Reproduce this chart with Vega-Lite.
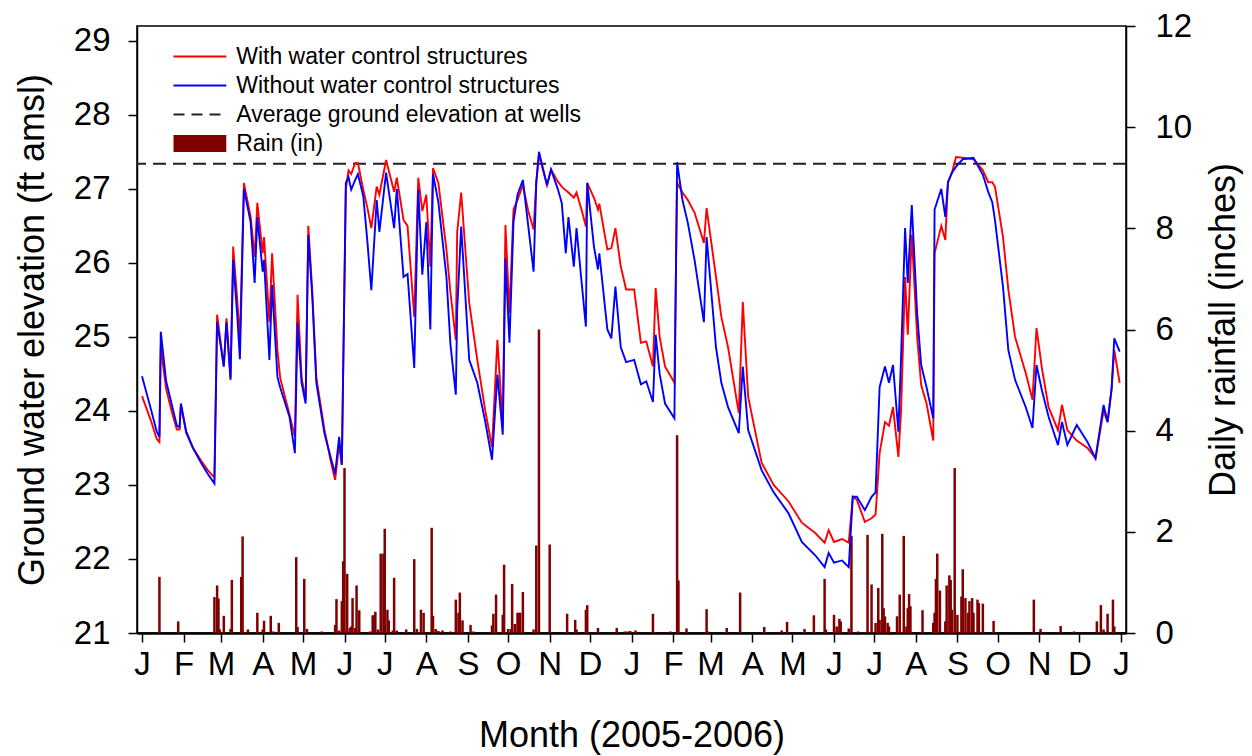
{
  "$schema": "https://vega.github.io/schema/vega-lite/v6.json",
  "width": 989,
  "height": 607,
  "autosize": "none",
  "padding": {"left": 137, "top": 26, "right": 126, "bottom": 123},
  "config": {
    "font": "Liberation Sans",
    "view": {"stroke": "black", "strokeWidth": 1.5},
    "axis": {
      "grid": false, "domainColor": "black", "tickColor": "black", "labelColor": "black", "titleColor": "black",
      "labelFontSize": 33, "titleFontSize": 36, "titleFontWeight": "normal", "tickSize": 9, "tickWidth": 1.5,
      "domainWidth": 1.5, "labelFont": "Liberation Sans", "titleFont": "Liberation Sans"
    },
    "legend": {
      "orient": "none", "legendX": 36, "legendY": 19, "padding": 0,
      "symbolType": "M-3.3,0H3.3", "symbolSize": 256, "symbolOffset": 15.4, "labelOffset": 24.8,
      "labelFontSize": 23, "labelColor": "black", "labelFont": "Liberation Sans", "labelLimit": 0,
      "rowPadding": 5, "title": null
    }
  },
  "datasets": {
    "levels": [
      {"date": "2005-01-01", "with": 24.2, "without": 24.47},
      {"date": "2005-01-05", "with": 24.0, "without": 24.2},
      {"date": "2005-01-08", "with": 23.85, "without": 24.0},
      {"date": "2005-01-12", "with": 23.62, "without": 23.72},
      {"date": "2005-01-14", "with": 23.58, "without": 23.65},
      {"date": "2005-01-15", "with": 24.86, "without": 25.07},
      {"date": "2005-01-19", "with": 24.3, "without": 24.4},
      {"date": "2005-01-23", "with": 24.0, "without": 24.1},
      {"date": "2005-01-27", "with": 23.75, "without": 23.8},
      {"date": "2005-01-29", "with": 23.75, "without": 23.78},
      {"date": "2005-01-30", "with": 24.08, "without": 24.1},
      {"date": "2005-02-03", "with": 23.7, "without": 23.72},
      {"date": "2005-02-08", "with": 23.5, "without": 23.5},
      {"date": "2005-02-14", "with": 23.33, "without": 23.3},
      {"date": "2005-02-19", "with": 23.2, "without": 23.15},
      {"date": "2005-02-24", "with": 23.1, "without": 23.02},
      {"date": "2005-02-26", "with": 25.3, "without": 25.2},
      {"date": "2005-03-03", "with": 24.6, "without": 24.6},
      {"date": "2005-03-05", "with": 25.25, "without": 25.2},
      {"date": "2005-03-08", "with": 24.45, "without": 24.42},
      {"date": "2005-03-10", "with": 26.22, "without": 26.04},
      {"date": "2005-03-13", "with": 25.5, "without": 25.3},
      {"date": "2005-03-15", "with": 24.95, "without": 24.7},
      {"date": "2005-03-18", "with": 27.08, "without": 27.0},
      {"date": "2005-03-23", "with": 26.62, "without": 26.55},
      {"date": "2005-03-26", "with": 26.08, "without": 25.73},
      {"date": "2005-03-28", "with": 26.81, "without": 26.62},
      {"date": "2005-04-01", "with": 26.13, "without": 25.88},
      {"date": "2005-04-02", "with": 26.35, "without": 26.04},
      {"date": "2005-04-06", "with": 25.2, "without": 24.69},
      {"date": "2005-04-08", "with": 26.13, "without": 25.7},
      {"date": "2005-04-12", "with": 24.82, "without": 24.46},
      {"date": "2005-04-14", "with": 24.45, "without": 24.32},
      {"date": "2005-04-21", "with": 23.95, "without": 23.92},
      {"date": "2005-04-25", "with": 23.65, "without": 23.43},
      {"date": "2005-04-27", "with": 25.57, "without": 25.19},
      {"date": "2005-04-30", "with": 24.45, "without": 24.38},
      {"date": "2005-05-03", "with": 24.15, "without": 24.1},
      {"date": "2005-05-05", "with": 26.5, "without": 26.38},
      {"date": "2005-05-08", "with": 25.6, "without": 25.54},
      {"date": "2005-05-11", "with": 24.45, "without": 24.38},
      {"date": "2005-05-17", "with": 23.75, "without": 23.7},
      {"date": "2005-05-22", "with": 23.3, "without": 23.35},
      {"date": "2005-05-25", "with": 23.07, "without": 23.15},
      {"date": "2005-05-28", "with": 23.55, "without": 23.65},
      {"date": "2005-05-30", "with": 23.27, "without": 23.27},
      {"date": "2005-06-02", "with": 27.0, "without": 27.08},
      {"date": "2005-06-04", "with": 27.25, "without": 27.16},
      {"date": "2005-06-06", "with": 27.2, "without": 26.99},
      {"date": "2005-06-09", "with": 27.35, "without": 27.12},
      {"date": "2005-06-11", "with": 27.35, "without": 27.2},
      {"date": "2005-06-15", "with": 26.99, "without": 26.9},
      {"date": "2005-06-18", "with": 26.75, "without": 26.3},
      {"date": "2005-06-21", "with": 26.47, "without": 25.63},
      {"date": "2005-06-25", "with": 27.03, "without": 26.85},
      {"date": "2005-06-27", "with": 26.92, "without": 26.42},
      {"date": "2005-07-02", "with": 27.39, "without": 27.22},
      {"date": "2005-07-08", "with": 26.96, "without": 26.47},
      {"date": "2005-07-10", "with": 27.15, "without": 27.0},
      {"date": "2005-07-15", "with": 26.58, "without": 25.81},
      {"date": "2005-07-18", "with": 26.5, "without": 25.85},
      {"date": "2005-07-23", "with": 25.27, "without": 24.58},
      {"date": "2005-07-26", "with": 27.15, "without": 26.99},
      {"date": "2005-07-29", "with": 26.7, "without": 25.84},
      {"date": "2005-08-01", "with": 26.92, "without": 26.55},
      {"date": "2005-08-04", "with": 25.95, "without": 25.1},
      {"date": "2005-08-06", "with": 27.28, "without": 27.2},
      {"date": "2005-08-10", "with": 27.08, "without": 26.82},
      {"date": "2005-08-16", "with": 26.18, "without": 25.81},
      {"date": "2005-08-19", "with": 25.6, "without": 24.9},
      {"date": "2005-08-23", "with": 24.96, "without": 24.22},
      {"date": "2005-08-24", "with": 26.41, "without": 25.36},
      {"date": "2005-08-27", "with": 26.95, "without": 26.49},
      {"date": "2005-09-02", "with": 25.46, "without": 24.69},
      {"date": "2005-09-08", "with": 24.69, "without": 24.38},
      {"date": "2005-09-14", "with": 24.0, "without": 23.85},
      {"date": "2005-09-19", "with": 23.51, "without": 23.34},
      {"date": "2005-09-23", "with": 24.96, "without": 24.49},
      {"date": "2005-09-27", "with": 23.8, "without": 23.68},
      {"date": "2005-09-29", "with": 26.51, "without": 26.06},
      {"date": "2005-10-02", "with": 25.32, "without": 24.92},
      {"date": "2005-10-05", "with": 26.72, "without": 26.55},
      {"date": "2005-10-08", "with": 26.85, "without": 26.92},
      {"date": "2005-10-12", "with": 27.05, "without": 27.12},
      {"date": "2005-10-16", "with": 26.7, "without": 26.5},
      {"date": "2005-10-20", "with": 26.45, "without": 25.88},
      {"date": "2005-10-22", "with": 27.1, "without": 27.08},
      {"date": "2005-10-24", "with": 27.46, "without": 27.5},
      {"date": "2005-10-30", "with": 27.05, "without": 27.05},
      {"date": "2005-11-02", "with": 27.26, "without": 27.26},
      {"date": "2005-11-07", "with": 27.1, "without": 27.0},
      {"date": "2005-11-10", "with": 27.03, "without": 26.81},
      {"date": "2005-11-13", "with": 26.98, "without": 26.13},
      {"date": "2005-11-15", "with": 26.95, "without": 26.62},
      {"date": "2005-11-19", "with": 26.88, "without": 25.95},
      {"date": "2005-11-21", "with": 26.95, "without": 26.47},
      {"date": "2005-11-25", "with": 26.7, "without": 25.7},
      {"date": "2005-11-28", "with": 26.49, "without": 25.14},
      {"date": "2005-11-29", "with": 27.08, "without": 27.08},
      {"date": "2005-12-04", "with": 26.88, "without": 26.22},
      {"date": "2005-12-07", "with": 26.72, "without": 25.91},
      {"date": "2005-12-08", "with": 26.8, "without": 26.13},
      {"date": "2005-12-14", "with": 26.18, "without": 25.1},
      {"date": "2005-12-17", "with": 26.2, "without": 24.98},
      {"date": "2005-12-20", "with": 26.47, "without": 25.68},
      {"date": "2005-12-24", "with": 25.95, "without": 24.86},
      {"date": "2005-12-28", "with": 25.64, "without": 24.66},
      {"date": "2006-01-03", "with": 25.64, "without": 24.69},
      {"date": "2006-01-08", "with": 24.92, "without": 24.36},
      {"date": "2006-01-12", "with": 24.94, "without": 24.4},
      {"date": "2006-01-17", "with": 24.6, "without": 24.12},
      {"date": "2006-01-19", "with": 25.66, "without": 25.03},
      {"date": "2006-01-22", "with": 25.0, "without": 24.5},
      {"date": "2006-01-26", "with": 24.6, "without": 24.1},
      {"date": "2006-02-02", "with": 24.38, "without": 23.9},
      {"date": "2006-02-04", "with": 27.08, "without": 27.36},
      {"date": "2006-02-08", "with": 26.95, "without": 26.85},
      {"date": "2006-02-12", "with": 26.85, "without": 26.54},
      {"date": "2006-02-17", "with": 26.68, "without": 26.04},
      {"date": "2006-02-24", "with": 26.27, "without": 25.2},
      {"date": "2006-02-26", "with": 26.74, "without": 26.35},
      {"date": "2006-03-05", "with": 25.81, "without": 24.86},
      {"date": "2006-03-09", "with": 25.27, "without": 24.38},
      {"date": "2006-03-14", "with": 24.86, "without": 24.05},
      {"date": "2006-03-22", "with": 23.97, "without": 23.7},
      {"date": "2006-03-25", "with": 25.47, "without": 24.6},
      {"date": "2006-03-29", "with": 24.19, "without": 23.74},
      {"date": "2006-04-08", "with": 23.3, "without": 23.2},
      {"date": "2006-04-17", "with": 23.0, "without": 22.9},
      {"date": "2006-04-28", "with": 22.78, "without": 22.62},
      {"date": "2006-05-08", "with": 22.49, "without": 22.23},
      {"date": "2006-05-18", "with": 22.35, "without": 22.05},
      {"date": "2006-05-25", "with": 22.22, "without": 21.89},
      {"date": "2006-05-28", "with": 22.39, "without": 22.08},
      {"date": "2006-06-01", "with": 22.23, "without": 21.95},
      {"date": "2006-06-07", "with": 22.27, "without": 21.98},
      {"date": "2006-06-12", "with": 22.22, "without": 21.89},
      {"date": "2006-06-15", "with": 22.84, "without": 22.84},
      {"date": "2006-06-18", "with": 22.8, "without": 22.84},
      {"date": "2006-06-24", "with": 22.5, "without": 22.66},
      {"date": "2006-06-29", "with": 22.55, "without": 22.84},
      {"date": "2006-07-02", "with": 22.6, "without": 22.9},
      {"date": "2006-07-05", "with": 23.43, "without": 24.32},
      {"date": "2006-07-09", "with": 23.85, "without": 24.6},
      {"date": "2006-07-12", "with": 23.8, "without": 24.38},
      {"date": "2006-07-15", "with": 24.05, "without": 24.62},
      {"date": "2006-07-19", "with": 23.38, "without": 23.72},
      {"date": "2006-07-21", "with": 24.0, "without": 24.72},
      {"date": "2006-07-24", "with": 25.81, "without": 26.47},
      {"date": "2006-07-26", "with": 25.03, "without": 25.73},
      {"date": "2006-07-29", "with": 26.38, "without": 26.78},
      {"date": "2006-08-02", "with": 25.0, "without": 25.32},
      {"date": "2006-08-05", "with": 24.35, "without": 24.62},
      {"date": "2006-08-09", "with": 24.1, "without": 24.32},
      {"date": "2006-08-14", "with": 23.6, "without": 23.9},
      {"date": "2006-08-15", "with": 26.13, "without": 26.72},
      {"date": "2006-08-20", "with": 26.5, "without": 27.0},
      {"date": "2006-08-23", "with": 26.31, "without": 26.62},
      {"date": "2006-08-25", "with": 27.09, "without": 27.09},
      {"date": "2006-08-28", "with": 27.22, "without": 27.22},
      {"date": "2006-08-31", "with": 27.43, "without": 27.3},
      {"date": "2006-09-05", "with": 27.42, "without": 27.4},
      {"date": "2006-09-13", "with": 27.4, "without": 27.42},
      {"date": "2006-09-20", "with": 27.25, "without": 27.19},
      {"date": "2006-09-24", "with": 27.09, "without": 26.96},
      {"date": "2006-09-27", "with": 27.09, "without": 26.82},
      {"date": "2006-09-29", "with": 27.03, "without": 26.58},
      {"date": "2006-10-05", "with": 26.35, "without": 25.68},
      {"date": "2006-10-09", "with": 25.64, "without": 24.82},
      {"date": "2006-10-14", "with": 25.0, "without": 24.42},
      {"date": "2006-10-22", "with": 24.51, "without": 24.05},
      {"date": "2006-10-27", "with": 24.15, "without": 23.77},
      {"date": "2006-10-30", "with": 25.12, "without": 24.62},
      {"date": "2006-11-03", "with": 24.58, "without": 24.28},
      {"date": "2006-11-08", "with": 24.05, "without": 23.92},
      {"date": "2006-11-15", "with": 23.74, "without": 23.54},
      {"date": "2006-11-18", "with": 24.08, "without": 23.85},
      {"date": "2006-11-22", "with": 23.74, "without": 23.54},
      {"date": "2006-11-29", "with": 23.6, "without": 23.81},
      {"date": "2006-12-07", "with": 23.5, "without": 23.58},
      {"date": "2006-12-13", "with": 23.36, "without": 23.36},
      {"date": "2006-12-19", "with": 24.0, "without": 24.08},
      {"date": "2006-12-22", "with": 23.85, "without": 23.85},
      {"date": "2006-12-25", "with": 24.3, "without": 24.3},
      {"date": "2006-12-27", "with": 24.82, "without": 24.98},
      {"date": "2006-12-31", "with": 24.38, "without": 24.8}
    ],
    "rain": [
      {"date": "2005-01-14", "rain": 1.11}, {"date": "2005-01-28", "rain": 0.23},
      {"date": "2005-02-24", "rain": 0.71}, {"date": "2005-02-26", "rain": 0.94}, {"date": "2005-02-27", "rain": 0.68},
      {"date": "2005-02-28", "rain": 0.07}, {"date": "2005-03-03", "rain": 0.34}, {"date": "2005-03-08", "rain": 0.08},
      {"date": "2005-03-09", "rain": 1.05}, {"date": "2005-03-16", "rain": 1.11}, {"date": "2005-03-17", "rain": 1.91},
      {"date": "2005-03-21", "rain": 0.07}, {"date": "2005-03-28", "rain": 0.4}, {"date": "2005-04-01", "rain": 0.07},
      {"date": "2005-04-02", "rain": 0.24}, {"date": "2005-04-07", "rain": 0.34}, {"date": "2005-04-09", "rain": 0.03},
      {"date": "2005-04-13", "rain": 0.2}, {"date": "2005-04-26", "rain": 1.5}, {"date": "2005-04-27", "rain": 0.12},
      {"date": "2005-05-02", "rain": 1.07}, {"date": "2005-05-04", "rain": 0.08}, {"date": "2005-05-15", "rain": 0.03},
      {"date": "2005-05-25", "rain": 0.16}, {"date": "2005-05-26", "rain": 0.67}, {"date": "2005-05-28", "rain": 0.05},
      {"date": "2005-05-30", "rain": 0.63}, {"date": "2005-05-31", "rain": 1.42}, {"date": "2005-06-01", "rain": 3.26},
      {"date": "2005-06-03", "rain": 1.17}, {"date": "2005-06-05", "rain": 0.1}, {"date": "2005-06-06", "rain": 0.13},
      {"date": "2005-06-07", "rain": 0.69}, {"date": "2005-06-09", "rain": 0.1}, {"date": "2005-06-10", "rain": 0.94},
      {"date": "2005-06-12", "rain": 0.45}, {"date": "2005-06-20", "rain": 0.03}, {"date": "2005-06-22", "rain": 0.35},
      {"date": "2005-06-23", "rain": 0.35}, {"date": "2005-06-24", "rain": 0.42}, {"date": "2005-06-26", "rain": 0.07},
      {"date": "2005-06-28", "rain": 1.57}, {"date": "2005-06-30", "rain": 1.57}, {"date": "2005-07-01", "rain": 2.06},
      {"date": "2005-07-03", "rain": 0.46}, {"date": "2005-07-04", "rain": 0.25}, {"date": "2005-07-07", "rain": 0.05},
      {"date": "2005-07-08", "rain": 1.09}, {"date": "2005-07-10", "rain": 0.05}, {"date": "2005-07-17", "rain": 0.07},
      {"date": "2005-07-23", "rain": 1.46}, {"date": "2005-07-25", "rain": 0.08}, {"date": "2005-07-28", "rain": 0.46},
      {"date": "2005-07-30", "rain": 0.4}, {"date": "2005-08-05", "rain": 2.08}, {"date": "2005-08-06", "rain": 0.34},
      {"date": "2005-08-08", "rain": 0.08}, {"date": "2005-08-10", "rain": 0.04}, {"date": "2005-08-13", "rain": 0.05},
      {"date": "2005-08-19", "rain": 0.03}, {"date": "2005-08-23", "rain": 0.66}, {"date": "2005-08-25", "rain": 0.4},
      {"date": "2005-08-26", "rain": 0.8}, {"date": "2005-08-28", "rain": 0.25}, {"date": "2005-09-03", "rain": 0.16},
      {"date": "2005-09-05", "rain": 0.03}, {"date": "2005-09-19", "rain": 0.15}, {"date": "2005-09-20", "rain": 0.38},
      {"date": "2005-09-22", "rain": 0.76}, {"date": "2005-09-27", "rain": 0.36}, {"date": "2005-09-28", "rain": 1.35},
      {"date": "2005-10-01", "rain": 0.08}, {"date": "2005-10-03", "rain": 0.08}, {"date": "2005-10-04", "rain": 0.97},
      {"date": "2005-10-06", "rain": 0.18}, {"date": "2005-10-08", "rain": 0.4}, {"date": "2005-10-09", "rain": 0.4},
      {"date": "2005-10-10", "rain": 0.4}, {"date": "2005-10-12", "rain": 0.81}, {"date": "2005-10-20", "rain": 0.07},
      {"date": "2005-10-22", "rain": 1.73}, {"date": "2005-10-24", "rain": 6.0}, {"date": "2005-11-01", "rain": 1.75},
      {"date": "2005-11-14", "rain": 0.38}, {"date": "2005-11-20", "rain": 0.26}, {"date": "2005-11-21", "rain": 0.07},
      {"date": "2005-11-28", "rain": 0.46}, {"date": "2005-11-29", "rain": 0.55}, {"date": "2005-12-07", "rain": 0.1},
      {"date": "2005-12-21", "rain": 0.1}, {"date": "2005-12-27", "rain": 0.03}, {"date": "2005-12-29", "rain": 0.03},
      {"date": "2005-12-31", "rain": 0.04}, {"date": "2006-01-04", "rain": 0.05}, {"date": "2006-01-17", "rain": 0.38},
      {"date": "2006-01-30", "rain": 0.03}, {"date": "2006-02-04", "rain": 3.91}, {"date": "2006-02-05", "rain": 1.04},
      {"date": "2006-02-11", "rain": 0.09}, {"date": "2006-02-26", "rain": 0.47}, {"date": "2006-02-27", "rain": 0.03},
      {"date": "2006-03-13", "rain": 0.1}, {"date": "2006-03-23", "rain": 0.8}, {"date": "2006-04-10", "rain": 0.12},
      {"date": "2006-04-23", "rain": 0.05}, {"date": "2006-04-27", "rain": 0.22}, {"date": "2006-05-10", "rain": 0.08},
      {"date": "2006-05-17", "rain": 0.35}, {"date": "2006-05-25", "rain": 1.07}, {"date": "2006-05-26", "rain": 0.07},
      {"date": "2006-06-01", "rain": 0.36}, {"date": "2006-06-03", "rain": 0.13}, {"date": "2006-06-05", "rain": 0.28},
      {"date": "2006-06-06", "rain": 0.23}, {"date": "2006-06-12", "rain": 0.09}, {"date": "2006-06-14", "rain": 1.92},
      {"date": "2006-06-19", "rain": 0.03}, {"date": "2006-06-26", "rain": 1.94}, {"date": "2006-06-29", "rain": 0.96},
      {"date": "2006-07-02", "rain": 0.2}, {"date": "2006-07-04", "rain": 0.89}, {"date": "2006-07-05", "rain": 0.26},
      {"date": "2006-07-07", "rain": 1.96}, {"date": "2006-07-08", "rain": 0.49}, {"date": "2006-07-09", "rain": 0.33},
      {"date": "2006-07-11", "rain": 0.2}, {"date": "2006-07-12", "rain": 0.13}, {"date": "2006-07-18", "rain": 0.33},
      {"date": "2006-07-20", "rain": 0.76}, {"date": "2006-07-23", "rain": 1.92}, {"date": "2006-07-25", "rain": 0.13},
      {"date": "2006-07-26", "rain": 0.49}, {"date": "2006-07-27", "rain": 0.77}, {"date": "2006-07-28", "rain": 0.53},
      {"date": "2006-08-06", "rain": 0.45}, {"date": "2006-08-14", "rain": 0.2}, {"date": "2006-08-15", "rain": 0.4},
      {"date": "2006-08-16", "rain": 1.07}, {"date": "2006-08-17", "rain": 1.57}, {"date": "2006-08-19", "rain": 0.84},
      {"date": "2006-08-23", "rain": 0.23}, {"date": "2006-08-24", "rain": 0.94}, {"date": "2006-08-26", "rain": 1.14},
      {"date": "2006-08-27", "rain": 1.05}, {"date": "2006-08-28", "rain": 0.46}, {"date": "2006-08-30", "rain": 3.26},
      {"date": "2006-09-01", "rain": 0.36}, {"date": "2006-09-04", "rain": 0.72}, {"date": "2006-09-05", "rain": 1.26},
      {"date": "2006-09-07", "rain": 0.69}, {"date": "2006-09-09", "rain": 0.4}, {"date": "2006-09-10", "rain": 0.63},
      {"date": "2006-09-12", "rain": 0.69}, {"date": "2006-09-13", "rain": 0.4}, {"date": "2006-09-16", "rain": 0.66},
      {"date": "2006-09-17", "rain": 0.59}, {"date": "2006-09-20", "rain": 0.58}, {"date": "2006-09-28", "rain": 0.24},
      {"date": "2006-10-28", "rain": 0.66}, {"date": "2006-11-02", "rain": 0.08}, {"date": "2006-11-17", "rain": 0.14},
      {"date": "2006-11-27", "rain": 0.03}, {"date": "2006-12-14", "rain": 0.23}, {"date": "2006-12-17", "rain": 0.55},
      {"date": "2006-12-19", "rain": 0.07}, {"date": "2006-12-22", "rain": 0.38}, {"date": "2006-12-26", "rain": 0.66},
      {"date": "2006-12-27", "rain": 0.13}
    ]
  },
  "layer": [
    {
      "data": {"name": "rain"},
      "mark": {"type": "bar", "size": 2.5, "color": "#800000"},
      "encoding": {
        "x": {
          "field": "date", "type": "temporal",
          "scale": {"type": "utc", "domain": [{"year": 2005, "month": 1, "date": 1, "utc": true}, {"year": 2007, "month": 1, "date": 1, "utc": true}]},
          "axis": {
            "title": "Month (2005-2006)", "tickCount": {"interval": "month", "step": 1},
            "labelExpr": "slice(utcFormat(datum.value, '%b'), 0, 1)",
            "labelFlush": false, "labelOverlap": false, "labelPadding": 6, "titlePadding": 37,
            "domainWidth": 2.5
          }
        },
        "y": {
          "field": "rain", "type": "quantitative",
          "scale": {"domain": [0, 12], "nice": false},
          "axis": {"orient": "right", "title": "Daily rainfall (inches)", "values": [0, 2, 4, 6, 8, 10, 12], "labelPadding": 20, "titlePadding": 51, "titleAngle": 270}
        },
        "color": {
          "datum": "Rain (in)",
          "scale": {
            "domain": ["With water control structures", "Without water control structures", "Average ground elevation at wells", "Rain (in)"],
            "range": ["#ff0000", "#0000ff", "#222222", "#800000"]
          },
          "legend": {
            "encode": {
              "symbols": {
                "update": {
                  "shape": {"signal": "datum.value === 'Rain (in)' ? 'M-3.3,-1.06H3.3V1.06H-3.3Z' : 'M-3.3,0H3.3'"},
                  "stroke": {"scale": "color", "field": "value"},
                  "fill": {"signal": "datum.value === 'Rain (in)' ? '#800000' : 'transparent'"},
                  "strokeWidth": {"signal": "datum.value === 'Rain (in)' ? 0 : 1.8"},
                  "strokeDash": {"signal": "datum.value === 'Average ground elevation at wells' ? [11, 7] : [1, 0]"}
                }
              }
            }
          }
        }
      }
    },
    {
      "layer": [
        {
          "data": {"values": [{"elev": 27.34}]},
          "mark": {"type": "rule", "strokeDash": [13, 7], "strokeWidth": 2},
          "encoding": {
            "y": {"field": "elev", "type": "quantitative", "title": "Ground water elevation (ft amsl)",
              "scale": {"domain": [21, 29.2], "nice": false, "zero": false},
              "axis": {"orient": "left", "values": [21, 22, 23, 24, 25, 26, 27, 28, 29], "format": "d", "labelPadding": 18, "titlePadding": 22}},
            "color": {"datum": "Average ground elevation at wells"}
          }
        },
        {
          "data": {"name": "levels"},
          "mark": {"type": "line", "strokeWidth": 1.9},
          "encoding": {
            "x": {"field": "date", "type": "temporal"},
            "y": {"field": "with", "type": "quantitative", "title": "Ground water elevation (ft amsl)"},
            "color": {"datum": "With water control structures"}
          }
        },
        {
          "data": {"name": "levels"},
          "mark": {"type": "line", "strokeWidth": 1.9},
          "encoding": {
            "x": {"field": "date", "type": "temporal"},
            "y": {"field": "without", "type": "quantitative", "title": "Ground water elevation (ft amsl)"},
            "color": {"datum": "Without water control structures"}
          }
        }
      ]
    }
  ],
  "resolve": {"scale": {"y": "independent"}}
}
